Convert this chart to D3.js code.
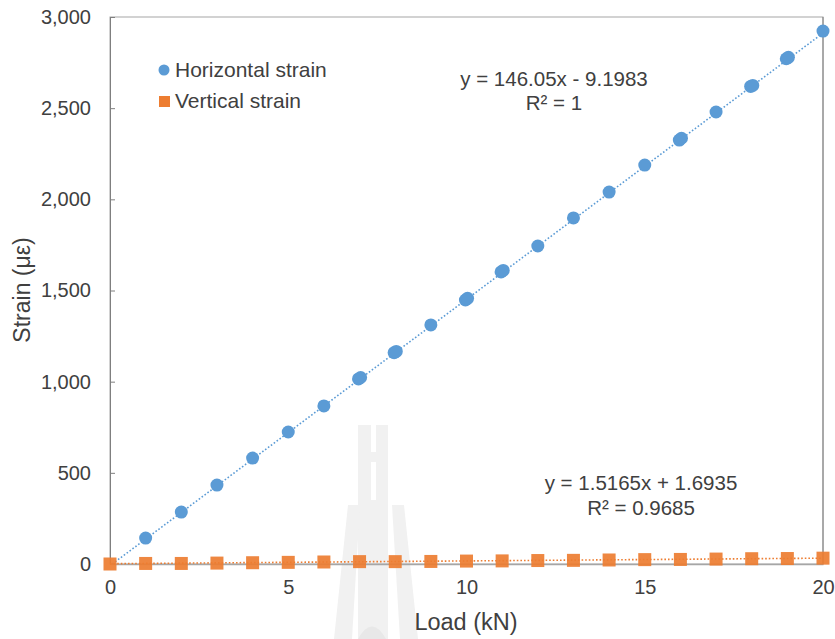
<!DOCTYPE html>
<html>
<head>
<meta charset="utf-8">
<script src="https://cdn.jsdelivr.net/npm/d3@7"></script>
<style>
  body { margin: 0; background: #fff; }
  text { font-family: "Liberation Sans", Arial, sans-serif; fill: #404040; }
</style>
</head>
<body>
<svg id="chart"></svg>
<script>
// ------ Data
var horizLoad   = [1, 2, 3, 4, 5, 6, 6.97, 7.03, 7.97, 8.03, 9, 9.97, 10.03, 10.97, 11.03, 12, 13, 14, 15, 15.97, 16.03, 17, 17.97, 18.03, 18.97, 19.03, 20];
var horizStrain = [142, 285, 433, 581, 724, 867, 1015, 1023, 1159, 1166, 1311, 1448, 1457, 1602, 1610, 1744, 1898, 2040, 2188, 2325, 2335, 2479, 2619, 2625, 2771, 2779, 2923];
var vertLoad    = [0, 1, 2, 3, 4, 5, 6, 7, 8, 9, 10, 11, 12, 13, 14, 15, 16, 17, 18, 19, 20];
var vertStrain  = [0, 3, 3, 5, 7, 9, 11, 13, 13, 14, 16, 17, 19, 20, 22, 24, 25, 27, 29, 30, 32];
var yTicks = [0, 500, 1000, 1500, 2000, 2500, 3000];
var xTicks = [0, 5, 10, 15, 20];
var horizFit = {slope: 146.05, intercept: -9.1983, label: "y = 146.05x - 9.1983", r2: "R² = 1"};
var vertFit  = {slope: 1.5165, intercept: 1.6935, label: "y = 1.5165x + 1.6935", r2: "R² = 0.9685"};

var blue = "#5B9BD5", orange = "#ED7D31";

// ------ Sizes
var W = 835, H = 639;
var margin = {top: 17, right: 12, bottom: 75, left: 110},
    width = W - margin.left - margin.right,
    height = H - margin.top - margin.bottom;

var svg = d3.select("#chart").attr("width", W).attr("height", H);

// ------ Watermark (faint logo behind the plot)
var wm = svg.append("g").attr("fill", "#f1f1f1");
wm.append("path").attr("d", "M358,425 L388,425 L388,639 L358,639 Z");
wm.append("path").attr("d", "M348,505 L360,505 L352,639 L334,639 Z");
wm.append("path").attr("d", "M392,505 L404,505 L418,639 L400,639 Z");
wm.append("path").attr("fill", "#fff").attr("d", "M371,425 L376,425 L376,452 L371,452 Z M371,462 L376,462 L376,500 L371,500 Z");
wm.append("path").attr("fill", "#e8e8e8").attr("d", "M358,639 Q372,614 386,639 Z");

var g = svg.append("g").attr("transform", "translate(" + margin.left + "," + margin.top + ")");

var x = d3.scaleLinear().domain([0, 20]).range([0, width]);
var y = d3.scaleLinear().domain([0, 3000]).range([height, 0]);

// frame
g.append("rect").attr("x", 0).attr("y", 0).attr("width", width).attr("height", height)
  .attr("fill", "none").attr("stroke", "#a6a6a6").attr("stroke-width", 1);
g.append("line").attr("x1", width).attr("x2", width).attr("y1", 0).attr("y2", height)
  .attr("stroke", "#7f7f7f");

// y axis (ticks inward)
var yAxis = g.append("g").call(d3.axisLeft(y).tickValues(yTicks).tickSize(-5).tickPadding(19)
  .tickFormat(d3.format(",")));
yAxis.select(".domain").attr("stroke", "#7f7f7f");
yAxis.selectAll(".tick line").attr("stroke", "#7f7f7f");
yAxis.selectAll("text").style("font-size", "20px").attr("fill", "#404040");

// x axis (no ticks)
var xAxis = g.append("g").attr("transform", "translate(0," + height + ")")
  .call(d3.axisBottom(x).tickValues(xTicks).tickSize(0).tickPadding(16));
xAxis.select(".domain").attr("stroke", "#a6a6a6").attr("stroke-width", 1.5);
xAxis.selectAll("text").style("font-size", "20px").attr("fill", "#404040");

// axis titles
svg.append("text").attr("x", 466).attr("y", 630).attr("text-anchor", "middle")
  .style("font-size", "23.5px").text("Load (kN)");
svg.append("text").attr("transform", "translate(30,290) rotate(-90)").attr("text-anchor", "middle")
  .style("font-size", "23px").text("Strain (με)");

// trendlines
function fitLine(fit, x0, x1) {
  return [[x0, fit.slope * x0 + fit.intercept], [x1, fit.slope * x1 + fit.intercept]];
}
var line = d3.line().x(d => x(d[0])).y(d => y(Math.max(0, d[1])));
g.append("path").datum(fitLine(horizFit, 0.063, 20)).attr("d", line)
  .attr("fill", "none").attr("stroke", blue).attr("stroke-width", 1.6).attr("stroke-dasharray", "1.6,2");
g.append("path").datum(fitLine(vertFit, 0, 20)).attr("d", line)
  .attr("fill", "none").attr("stroke", orange).attr("stroke-width", 1.6).attr("stroke-dasharray", "1.6,2");

// vertical strain squares
var sq = 13;
g.selectAll(".sq").data(vertLoad).enter().append("rect")
  .attr("class", "sq")
  .attr("x", (d, i) => x(d) - sq / 2)
  .attr("y", (d, i) => y(vertStrain[i]) - sq / 2)
  .attr("width", sq).attr("height", sq)
  .attr("fill", orange).attr("fill-opacity", 0.92);

// horizontal strain dots
g.selectAll(".dot").data(horizLoad).enter().append("circle")
  .attr("class", "dot")
  .attr("cx", d => x(d))
  .attr("cy", (d, i) => y(horizStrain[i]))
  .attr("r", 6.5)
  .attr("fill", blue);

// legend
var legend = svg.append("g");
legend.append("circle").attr("cx", 164).attr("cy", 70).attr("r", 5.5).attr("fill", blue);
legend.append("text").attr("x", 175).attr("y", 77).style("font-size", "21px").text("Horizontal strain");
legend.append("rect").attr("x", 159).attr("y", 96).attr("width", 11).attr("height", 11).attr("fill", orange);
legend.append("text").attr("x", 175).attr("y", 108).style("font-size", "21px").text("Vertical strain");

// equations
svg.append("text").attr("x", 554).attr("y", 86).attr("text-anchor", "middle").style("font-size", "20.5px").text(horizFit.label);
svg.append("text").attr("x", 554).attr("y", 110).attr("text-anchor", "middle").style("font-size", "20.5px").text(horizFit.r2);
svg.append("text").attr("x", 641).attr("y", 490).attr("text-anchor", "middle").style("font-size", "20.5px").text(vertFit.label);
svg.append("text").attr("x", 641).attr("y", 515).attr("text-anchor", "middle").style("font-size", "20.5px").text(vertFit.r2);
</script>
</body>
</html>
